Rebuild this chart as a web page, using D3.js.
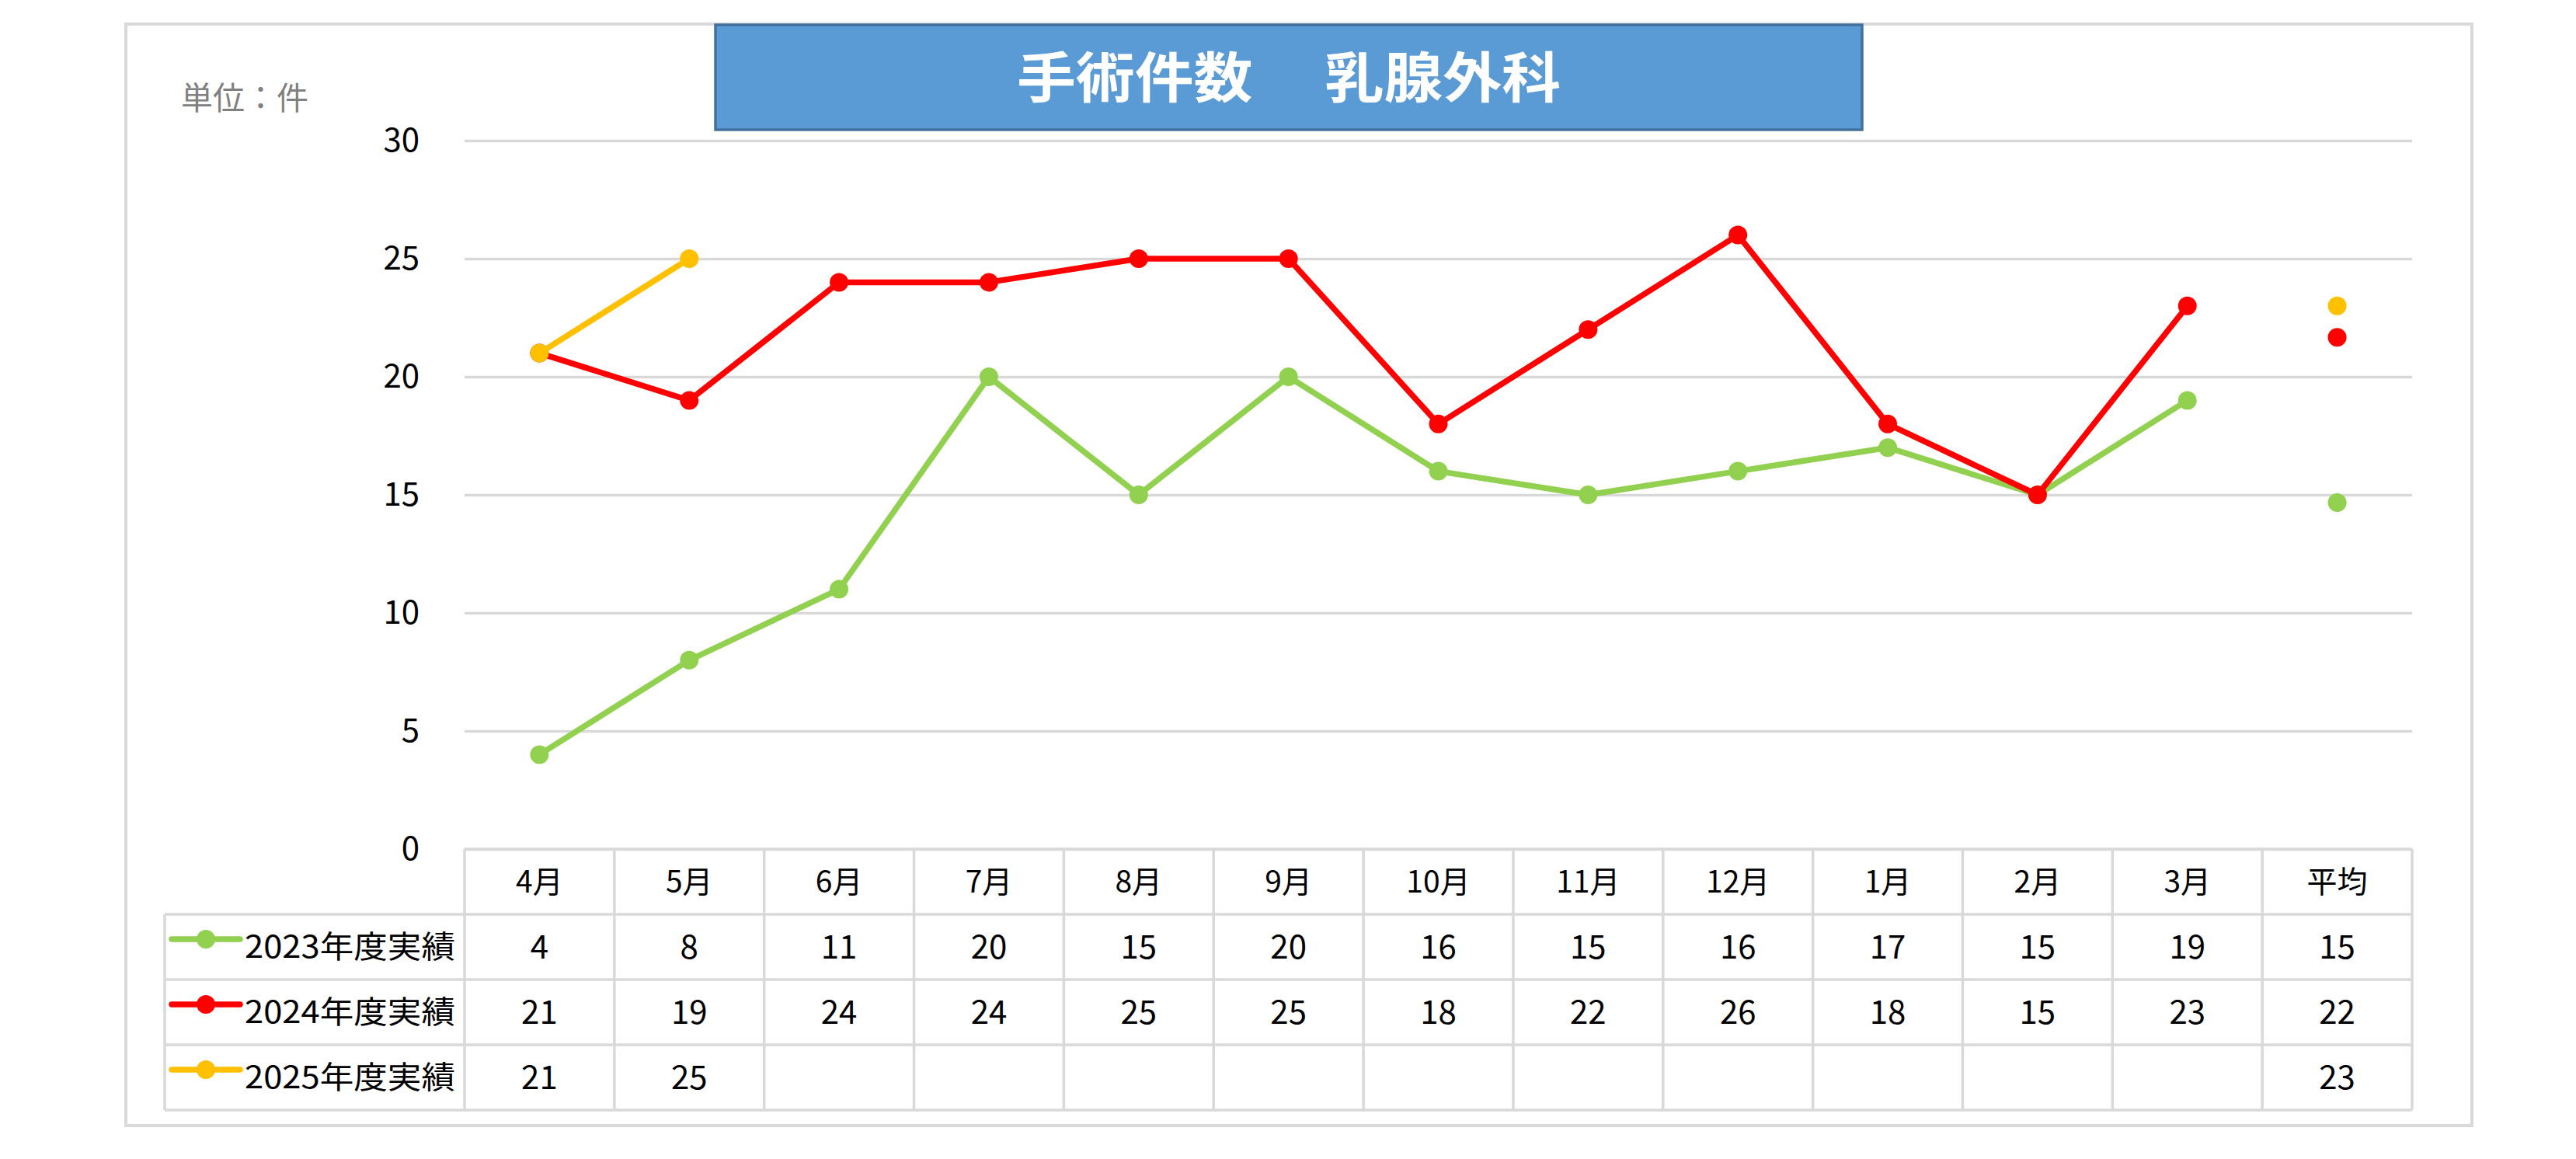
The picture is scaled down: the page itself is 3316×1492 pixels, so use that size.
<!DOCTYPE html>
<html>
<head>
<meta charset="utf-8">
<title>手術件数 乳腺外科</title>
<script src="https://cdn.jsdelivr.net/npm/d3@7"></script>
<style>
  html, body { margin: 0; padding: 0; background: #fff; }
  svg text { font-family: "Noto Sans CJK JP", "Noto Sans", sans-serif; }
</style>
</head>
<body>
<svg id="chart" width="3316" height="1492"></svg>
<script>
// data
var months = ["4月", "5月", "6月", "7月", "8月", "9月", "10月", "11月", "12月", "1月", "2月", "3月"];
var avgLabel = "平均";
var seriesNames = ["2023年度実績", "2024年度実績", "2025年度実績"];
var seriesColors = ["#92D050", "#FF0000", "#FFC000"];
var v2023 = [4, 8, 11, 20, 15, 20, 16, 15, 16, 17, 15, 19];
var v2024 = [21, 19, 24, 24, 25, 25, 18, 22, 26, 18, 15, 23];
var v2025 = [21, 25];
var averages = [14.67, 21.67, 23];
var yTicks = [0, 5, 10, 15, 20, 25, 30];
var titleText = "手術件数　 乳腺外科";
var unitText = "単位：件";

var series = [v2023, v2024, v2025];

var svg = d3.select("#chart");
var grey = "#D9D9D9";

// outer frame
svg.append("rect")
  .attr("x", 162).attr("y", 31)
  .attr("width", 3020).attr("height", 1418)
  .attr("fill", "#fff").attr("stroke", grey).attr("stroke-width", 4);

var plotL = 598, plotR = 3105, plotT = 181, plotB = 1093;
var cols = months.concat([avgLabel]);

var x = d3.scaleBand().domain(cols).range([plotL, plotR]);
var y = d3.scaleLinear().domain([0, 30]).range([plotB, plotT]);

// grid + y labels
var yAxis = svg.append("g")
  .attr("transform", "translate(" + plotL + ",0)")
  .call(d3.axisLeft(y).tickValues(yTicks).tickSize(-(plotR - plotL)).tickPadding(58));
yAxis.select(".domain").remove();
yAxis.selectAll(".tick line").attr("stroke", grey).attr("stroke-width", 3.5);
yAxis.selectAll(".tick text")
  .attr("font-size", 42).attr("fill", "#000")
  .style("font-family", "'Noto Sans CJK JP', sans-serif");

// unit label
svg.append("text")
  .attr("x", 233).attr("y", 141)
  .attr("font-size", 41).attr("fill", "#808080")
  .text(unitText);

// title box
svg.append("rect")
  .attr("x", 921).attr("y", 32)
  .attr("width", 1476).attr("height", 135)
  .attr("fill", "#5B9BD5").attr("stroke", "#41719C").attr("stroke-width", 3.5);
svg.append("text")
  .attr("x", 1659).attr("y", 126)
  .attr("text-anchor", "middle")
  .attr("font-size", 70).attr("font-weight", "bold").attr("fill", "#fff")
  .attr("textLength", 700).attr("lengthAdjust", "spacingAndGlyphs")
  .text(titleText);

// lines
var line = d3.line()
  .x(function(d, i) { return x(months[i]) + x.bandwidth() / 2; })
  .y(function(d) { return y(d); });

series.forEach(function(vals, s) {
  var g = svg.append("g");
  g.append("path")
    .datum(vals)
    .attr("d", line)
    .attr("fill", "none")
    .attr("stroke", seriesColors[s])
    .attr("stroke-width", 7.5)
    .attr("stroke-linejoin", "round");
  g.selectAll("circle")
    .data(vals)
    .enter().append("circle")
    .attr("cx", function(d, i) { return x(months[i]) + x.bandwidth() / 2; })
    .attr("cy", function(d) { return y(d); })
    .attr("r", 12)
    .attr("fill", seriesColors[s]);
});

// average points
svg.selectAll("circle.avg")
  .data(averages)
  .enter().append("circle")
  .attr("class", "avg")
  .attr("cx", x(avgLabel) + x.bandwidth() / 2)
  .attr("cy", function(d) { return y(d); })
  .attr("r", 12)
  .attr("fill", function(d, i) { return seriesColors[i]; });

// data table
var rowH = 84;
var legendLeft = 212;
var tbl = svg.append("g");
var rowY = function(r) { return plotB + r * rowH; }; // r = 0 header

// horizontal lines
tbl.append("line")
  .attr("x1", plotL).attr("x2", plotR).attr("y1", rowY(0)).attr("y2", rowY(0))
  .attr("stroke", grey).attr("stroke-width", 3.5);
for (var r = 1; r <= 4; r++) {
  tbl.append("line")
    .attr("x1", legendLeft).attr("x2", plotR).attr("y1", rowY(r)).attr("y2", rowY(r))
    .attr("stroke", grey).attr("stroke-width", 3.5);
}
// vertical lines
tbl.append("line")
  .attr("x1", legendLeft).attr("x2", legendLeft).attr("y1", rowY(1)).attr("y2", rowY(4))
  .attr("stroke", grey).attr("stroke-width", 3.5);
cols.forEach(function(c) {
  tbl.append("line")
    .attr("x1", x(c)).attr("x2", x(c)).attr("y1", rowY(0)).attr("y2", rowY(4))
    .attr("stroke", grey).attr("stroke-width", 3.5);
});
tbl.append("line")
  .attr("x1", plotR).attr("x2", plotR).attr("y1", rowY(0)).attr("y2", rowY(4))
  .attr("stroke", grey).attr("stroke-width", 3.5);

// header
tbl.selectAll("text.hdr")
  .data(cols)
  .enter().append("text")
  .attr("class", "hdr")
  .attr("x", function(d) { return x(d) + x.bandwidth() / 2; })
  .attr("y", rowY(0) + rowH / 2)
  .attr("dy", "0.36em")
  .attr("text-anchor", "middle")
  .attr("font-size", 39)
  .text(function(d) { return d; });

// rows
series.forEach(function(vals, s) {
  var cy = rowY(s + 1) + rowH / 2;
  // legend key
  tbl.append("line")
    .attr("x1", 221).attr("x2", 309).attr("y1", cy - 10).attr("y2", cy - 10)
    .attr("stroke", seriesColors[s]).attr("stroke-width", 7.5)
    .attr("stroke-linecap", "round");
  tbl.append("circle")
    .attr("cx", 265).attr("cy", cy - 10).attr("r", 12)
    .attr("fill", seriesColors[s]);
  tbl.append("text")
    .attr("x", 315).attr("y", cy).attr("dy", "0.36em")
    .attr("font-size", 40)
    .attr("textLength", 271).attr("lengthAdjust", "spacingAndGlyphs")
    .text(seriesNames[s]);

  var cells = vals.map(function(v, i) { return { col: months[i], v: v }; });
  cells.push({ col: avgLabel, v: Math.round(averages[s]) });
  tbl.selectAll("text.s" + s)
    .data(cells)
    .enter().append("text")
    .attr("class", "s" + s)
    .attr("x", function(d) { return x(d.col) + x.bandwidth() / 2; })
    .attr("y", cy)
    .attr("dy", "0.36em")
    .attr("text-anchor", "middle")
    .attr("font-size", 42)
    .text(function(d) { return d.v; });
});
</script>
</body>
</html>
